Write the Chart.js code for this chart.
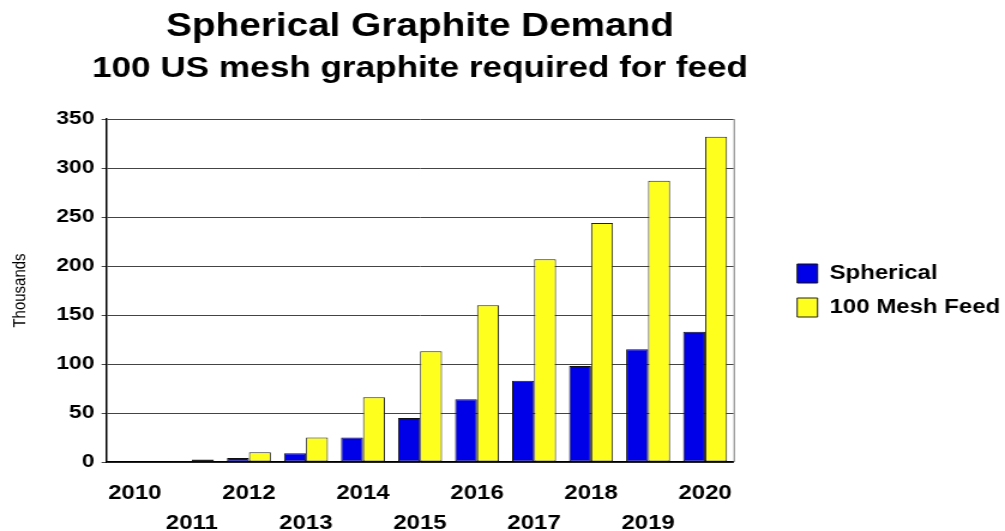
<!DOCTYPE html>
<html>
<head>
<meta charset="utf-8">
<script src="https://cdn.jsdelivr.net/npm/chart.js@4"></script>
<style>
  body { margin: 0; background: #fff; }
</style>
</head>
<body>
<canvas id="chart" width="838" height="531" style="width:1005px;height:531px"></canvas>
<script>
// demand in thousands of tonnes
const years = ['2010', '2011', '2012', '2013', '2014', '2015', '2016', '2017', '2018', '2019', '2020'];
const spherical = [0, 1, 4, 9, 25, 45, 64, 83, 98, 115, 133];
const meshFeed = [0, 2.5, 10, 25, 66, 113, 160, 207, 244, 287, 332];
const yTicks = [0, 50, 100, 150, 200, 250, 300, 350];

const titleText = 'Spherical Graphite Demand';
const subtitleText = '100 US mesh graphite required for feed';

const FONT = 'Liberation Sans, Arial';

// headings centred over the plot, right edge of the plot box,
// and some room between plot and legend
const plotFrame = {
  id: 'plotFrame',
  afterLayout(chart) {
    const lg = chart.legend;
    const w = lg.width;
    lg.left = chart.chartArea.right + 39;
    lg.right = lg.left + w;
  },
  beforeDatasetsDraw(chart) {
    const { ctx, chartArea: a } = chart;
    ctx.save();
    ctx.strokeStyle = '#777';
    ctx.lineWidth = 1;
    ctx.beginPath();
    ctx.moveTo(a.right + 0.5, a.top);
    ctx.lineTo(a.right + 0.5, a.bottom);
    ctx.stroke();
    ctx.restore();
  },
  afterDraw(chart) {
    const { ctx, chartArea: a } = chart;
    const cx = (a.left + a.right) / 2;
    ctx.save();
    ctx.fillStyle = '#000';
    ctx.textAlign = 'center';
    ctx.textBaseline = 'alphabetic';
    ctx.font = 'bold 32.3px ' + FONT;
    ctx.fillText(titleText, cx, 36);
    ctx.font = 'bold 29.3px ' + FONT;
    ctx.fillText(subtitleText, cx, 76.5);
    ctx.restore();
  }
};

const ctx = document.getElementById('chart').getContext('2d');

new Chart(ctx, {
  type: 'bar',
  data: {
    labels: years,
    datasets: [{
      label: 'Spherical',
      data: spherical,
      backgroundColor: '#0000E8',
      borderColor: '#111',
      borderWidth: 1,
      borderSkipped: false
    }, {
      label: '100 Mesh Feed',
      data: meshFeed,
      backgroundColor: '#FFFF1E',
      borderColor: '#222',
      borderWidth: 1,
      borderSkipped: false
    }]
  },
  options: {
    responsive: false,
    devicePixelRatio: 1,
    animation: false,
    layout: { padding: { left: 2, right: 33, top: 119, bottom: 0 } },
    datasets: {
      bar: { categoryPercentage: 0.77, barPercentage: 1 }
    },
    scales: {
      x: {
        afterFit: scale => { scale.height = 69; },
        grid: { display: false, drawTicks: false },
        border: { display: true, color: '#000', width: 1.5 },
        ticks: {
          autoSkip: false,
          maxRotation: 0,
          padding: 17,
          color: '#000',
          font: { family: FONT, weight: 'bold', size: 20, lineHeight: 1.47 },
          // even years on the first row, odd years on the second
          callback: function (value, index) {
            const label = this.getLabelForValue(value);
            return index % 2 === 0 ? [label] : ['', label];
          }
        }
      },
      y: {
        min: 0,
        max: 350,
        afterBuildTicks: scale => { scale.ticks = yTicks.map(v => ({ value: v })); },
        grid: { color: '#444', tickLength: 4 },
        border: { display: true, color: '#000', width: 1.5 },
        ticks: {
          padding: 6,
          color: '#000',
          font: { family: FONT, weight: 'bold', size: 19 }
        },
        title: {
          display: true,
          text: 'Thousands',
          color: '#000',
          padding: { top: 6, bottom: 15 },
          font: { family: FONT, size: 15 }
        }
      }
    },
    plugins: {
      title: { display: false },
      legend: {
        position: 'right',
        fullSize: false,
        labels: {
          boxWidth: 17,
          boxHeight: 19,
          padding: 14,
          color: '#000',
          font: { family: FONT, weight: 'bold', size: 20 }
        }
      },
      tooltip: { enabled: false }
    }
  },
  plugins: [plotFrame]
});
</script>
</body>
</html>
